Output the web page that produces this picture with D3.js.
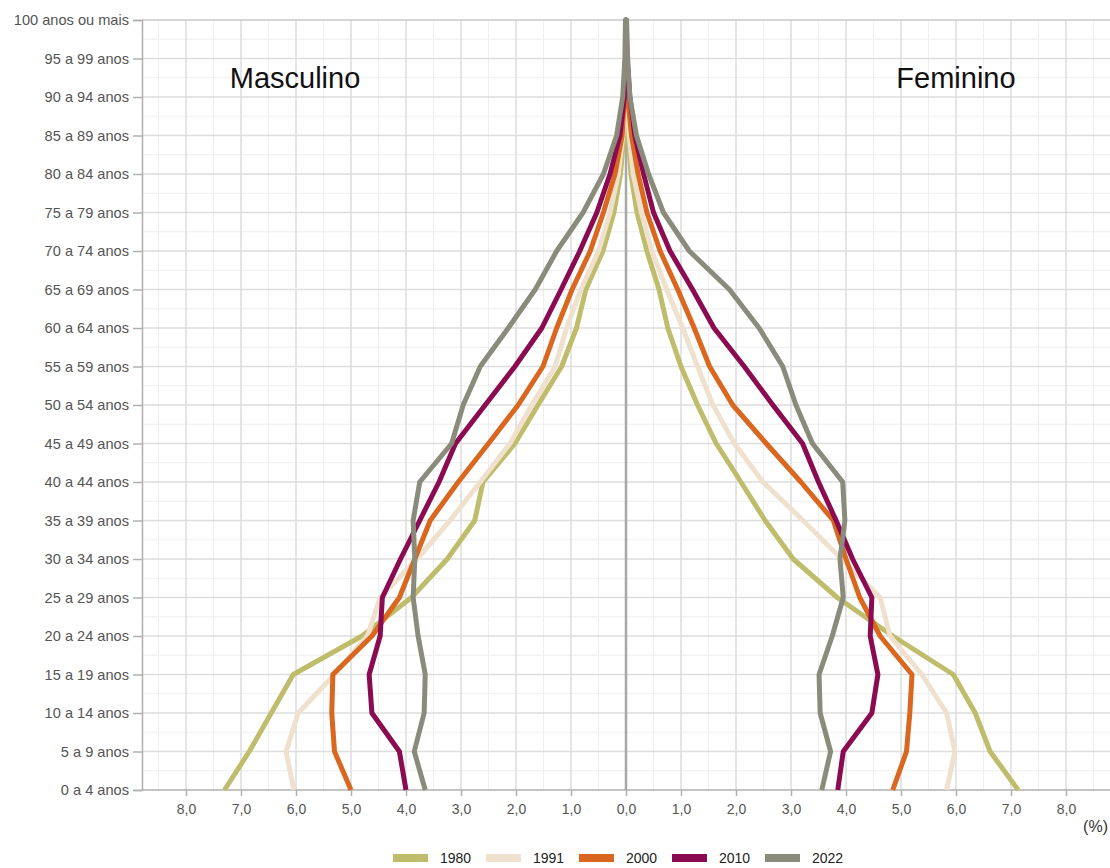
<!DOCTYPE html>
<html>
<head>
<meta charset="utf-8">
<script src="https://cdn.jsdelivr.net/npm/d3@7"></script>
<style>
  body { margin: 0; background: #fff; }
  svg { display: block; font-family: "Liberation Sans", Arial, sans-serif; }
</style>
</head>
<body>
<div id="chart"></div>
<script>
// faixas etarias, de baixo para cima
const ages = ['0 a 4 anos', '5 a 9 anos', '10 a 14 anos', '15 a 19 anos', '20 a 24 anos',
  '25 a 29 anos', '30 a 34 anos', '35 a 39 anos', '40 a 44 anos', '45 a 49 anos',
  '50 a 54 anos', '55 a 59 anos', '60 a 64 anos', '65 a 69 anos', '70 a 74 anos',
  '75 a 79 anos', '80 a 84 anos', '85 a 89 anos', '90 a 94 anos', '95 a 99 anos',
  '100 anos ou mais'];

const years = ['1980', '1991', '2000', '2010', '2022'];
const colors = ['#bfbd6b', '#efe1cd', '#da671f', '#8b0b52', '#8b8b7c'];

// percentual da populacao - homens
const male1980 = [7.3, 6.85, 6.45, 6.05, 4.8, 3.9, 3.25, 2.75, 2.6, 2.02, 1.6, 1.17, 0.9, 0.73, 0.42, 0.22, 0.1, 0.04, 0.02, 0.01, 0.0];
const male1991 = [6.04, 6.18, 5.96, 5.3, 4.7, 4.47, 3.8, 3.2, 2.65, 2.11, 1.71, 1.29, 1.08, 0.82, 0.5, 0.29, 0.14, 0.06, 0.02, 0.01, 0.0];
const male2000 = [5.0, 5.3, 5.35, 5.33, 4.62, 4.12, 3.84, 3.56, 3.05, 2.5, 1.96, 1.51, 1.26, 0.98, 0.65, 0.41, 0.2, 0.07, 0.03, 0.01, 0.0];
const male2010 = [4.0, 4.12, 4.62, 4.67, 4.47, 4.43, 4.1, 3.75, 3.4, 3.1, 2.56, 2.02, 1.53, 1.18, 0.84, 0.53, 0.29, 0.11, 0.03, 0.01, 0.0];
const male2022 = [3.65, 3.85, 3.67, 3.65, 3.78, 3.87, 3.84, 3.87, 3.75, 3.17, 2.96, 2.65, 2.14, 1.65, 1.26, 0.78, 0.41, 0.17, 0.06, 0.02, 0.01];

// percentual da populacao - mulheres
const female1980 = [7.13, 6.62, 6.35, 5.95, 4.85, 3.84, 3.04, 2.53, 2.09, 1.64, 1.3, 1.0, 0.76, 0.6, 0.38, 0.2, 0.09, 0.04, 0.02, 0.01, 0.0];
const female1991 = [5.83, 5.98, 5.83, 5.38, 4.8, 4.62, 3.92, 3.22, 2.49, 1.97, 1.58, 1.3, 1.03, 0.74, 0.47, 0.28, 0.13, 0.06, 0.02, 0.01, 0.0];
const female2000 = [4.85, 5.1, 5.16, 5.2, 4.62, 4.25, 4.0, 3.77, 3.18, 2.55, 1.94, 1.52, 1.24, 0.94, 0.62, 0.38, 0.22, 0.1, 0.03, 0.01, 0.0];
const female2010 = [3.85, 3.95, 4.47, 4.58, 4.44, 4.47, 4.12, 3.82, 3.5, 3.21, 2.67, 2.15, 1.6, 1.21, 0.8, 0.5, 0.32, 0.16, 0.07, 0.02, 0.0];
const female2022 = [3.56, 3.72, 3.53, 3.51, 3.75, 3.95, 3.89, 3.98, 3.94, 3.39, 3.09, 2.85, 2.42, 1.88, 1.15, 0.68, 0.41, 0.19, 0.07, 0.03, 0.01];

const xTicks = [-8, -7, -6, -5, -4, -3, -2, -1, 0, 1, 2, 3, 4, 5, 6, 7, 8];

const maleSeries = [male1980, male1991, male2000, male2010, male2022];
const femaleSeries = [female1980, female1991, female2000, female2010, female2022];

const width = 1110, height = 868;
const margin = { top: 20, right: 0, bottom: 78, left: 142 };

const svg = d3.select('#chart').append('svg')
  .attr('width', width)
  .attr('height', height);

const x = d3.scaleLinear()
  .domain([-8.8, 8.8])
  .range([margin.left, width - margin.right]);
const y = d3.scalePoint()
  .domain(ages)
  .range([height - margin.bottom, margin.top]);
const step = y.step();

// grade secundaria
const grid = svg.append('g');
const halfTicks = d3.range(-8.5, 8.6, 1);
grid.selectAll('.vminor').data(halfTicks).enter().append('line')
  .attr('x1', d => x(d)).attr('x2', d => x(d))
  .attr('y1', margin.top).attr('y2', height - margin.bottom)
  .attr('stroke', '#eeeeee').attr('stroke-width', 1);
grid.selectAll('.hminor').data(ages.slice(1)).enter().append('line')
  .attr('x1', margin.left).attr('x2', width - margin.right)
  .attr('y1', d => y(d) + step / 2).attr('y2', d => y(d) + step / 2)
  .attr('stroke', '#eeeeee').attr('stroke-width', 1);

// grade principal
grid.selectAll('.vmajor').data(xTicks.filter(d => d !== 0)).enter().append('line')
  .attr('x1', d => x(d)).attr('x2', d => x(d))
  .attr('y1', margin.top).attr('y2', height - margin.bottom)
  .attr('stroke', '#dddddd').attr('stroke-width', 1.5);
grid.selectAll('.hmajor').data(ages.slice(1, -1)).enter().append('line')
  .attr('x1', margin.left).attr('x2', width - margin.right)
  .attr('y1', d => y(d)).attr('y2', d => y(d))
  .attr('stroke', '#dddddd').attr('stroke-width', 1.5);

// linha superior
svg.append('line')
  .attr('x1', margin.left).attr('x2', width)
  .attr('y1', margin.top).attr('y2', margin.top)
  .attr('stroke', '#c8c8c8').attr('stroke-width', 1.5);

// eixo y
const yAxis = svg.append('g')
  .attr('transform', 'translate(' + margin.left + ',0)')
  .call(d3.axisLeft(y).tickSize(9).tickPadding(4));
yAxis.select('.domain').attr('stroke', '#b0b0b0').attr('stroke-width', 1.5);
yAxis.selectAll('.tick line').attr('stroke', '#b0b0b0').attr('stroke-width', 1.5);
yAxis.selectAll('.tick text')
  .attr('fill', '#555').style('font-size', '14.6px')
  .style('font-family', '"Liberation Sans", Arial, sans-serif');

// eixo x
const xAxis = svg.append('g')
  .attr('transform', 'translate(0,' + (height - margin.bottom) + ')')
  .call(d3.axisBottom(x).tickValues(xTicks).tickSize(6).tickPadding(8)
    .tickFormat(d => Math.abs(d).toFixed(1).replace('.', ',')));
xAxis.select('.domain').attr('stroke', '#b0b0b0').attr('stroke-width', 1.5)
  .attr('d', 'M' + margin.left + ',0H' + width);
xAxis.selectAll('.tick line').attr('stroke', '#b0b0b0').attr('stroke-width', 1.5);
xAxis.selectAll('.tick text')
  .attr('fill', '#555').style('font-size', '14px')
  .style('font-family', '"Liberation Sans", Arial, sans-serif');

svg.append('text')
  .attr('x', 1108).attr('y', 832)
  .attr('text-anchor', 'end')
  .attr('fill', '#333').style('font-size', '16px')
  .text('(%)');

// eixo central
svg.append('line')
  .attr('x1', x(0)).attr('x2', x(0))
  .attr('y1', margin.top).attr('y2', height - margin.bottom)
  .attr('stroke', '#a8a8a8').attr('stroke-width', 2.5);

// linhas da piramide
const line = d3.line()
  .x(d => x(d.v))
  .y(d => y(d.age));

years.forEach((yr, k) => {
  const pts = [];
  ages.forEach((a, i) => pts.push({ age: a, v: -maleSeries[k][i] }));
  for (let i = ages.length - 1; i >= 0; i--) {
    pts.push({ age: ages[i], v: femaleSeries[k][i] });
  }
  svg.append('path')
    .datum(pts)
    .attr('fill', 'none')
    .attr('stroke', colors[k])
    .attr('stroke-width', 5)
    .attr('stroke-linejoin', 'round')
    .attr('d', line);
});

// titulos
svg.append('text')
  .attr('x', 295).attr('y', 88)
  .attr('text-anchor', 'middle')
  .style('font-size', '29px').attr('fill', '#111')
  .text('Masculino');
svg.append('text')
  .attr('x', 956).attr('y', 88)
  .attr('text-anchor', 'middle')
  .style('font-size', '29px').attr('fill', '#111')
  .text('Feminino');

// legenda
const legend = svg.append('g')
  .attr('transform', 'translate(393,858)');
const item = legend.selectAll('g').data(years).enter().append('g')
  .attr('transform', (d, i) => 'translate(' + (i * 93) + ',0)');
item.append('rect')
  .attr('x', 0).attr('y', -4)
  .attr('width', 35).attr('height', 8)
  .attr('fill', (d, i) => colors[i]);
item.append('text')
  .attr('x', 47).attr('y', 5)
  .style('font-size', '14px').attr('fill', '#222')
  .text(d => d);
</script>
</body>
</html>
